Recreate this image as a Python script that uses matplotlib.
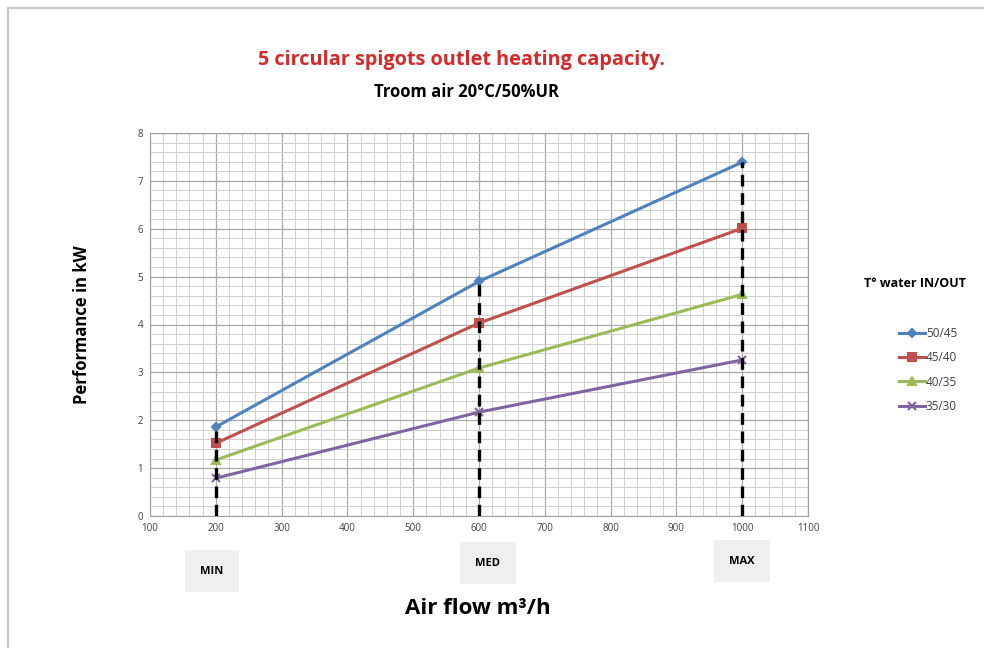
import matplotlib.pyplot as plt
import matplotlib.patches as mpatches
from matplotlib.ticker import MultipleLocator

airflow = [200, 600, 1000]
s_50_45 = [1.86, 4.90, 7.39]
s_45_40 = [1.52, 4.03, 6.01]
s_40_35 = [1.17, 3.09, 4.63]
s_35_30 = [0.79, 2.17, 3.26]
series_labels = ['50/45', '45/40', '40/35', '35/30']
levels = ['MIN', 'MED', 'MAX']

plt.rcParams['font.family'] = ['Open Sans', 'DejaVu Sans']

fig = plt.figure(figsize=(9.84, 6.48), dpi=100)
fig.patches.append(mpatches.Rectangle((8/984, -0.01), 1.0, 1 - 8/648 + 0.01,
                                      transform=fig.transFigure, fill=False,
                                      edgecolor='#c8c8c8', lw=1.5))
ax = fig.add_axes([150/984, 1 - 516/648, 658/984, 383/648])

colors = ['#4F81BD', '#C0504D', '#9BBB59', '#8064A2']
markers = ['D', 's', '^', 'x']
msizes = [4, 6, 6, 6]
for vals, lab, c, m, ms in zip([s_50_45, s_45_40, s_40_35, s_35_30],
                               series_labels, colors, markers, msizes):
    ax.plot(airflow, vals, color=c, marker=m, markersize=ms, lw=2.2,
            markeredgewidth=1.5, label=lab, zorder=3)

# dashed markers for MIN / MED / MAX
for x, top in zip(airflow, s_50_45):
    ax.plot([x, x], [0, top], color='black', ls=(0, (3.5, 2)), lw=2.4, zorder=4)

ax.set_xlim(100, 1100)
ax.set_ylim(0, 8)
ax.xaxis.set_major_locator(MultipleLocator(100))
ax.xaxis.set_minor_locator(MultipleLocator(20))
ax.yaxis.set_major_locator(MultipleLocator(1))
ax.yaxis.set_minor_locator(MultipleLocator(0.2))
ax.grid(which='major', color='#a8a8a8', lw=0.9)
ax.grid(which='minor', color='#cfcfcf', lw=0.7)
ax.set_axisbelow(True)
for sp in ax.spines.values():
    sp.set_color('#a0a0a0')
ax.tick_params(which='both', length=0, labelsize=7, colors='#404040', pad=5)

fig.text(461/984, 1 - 60/648, '5 circular spigots outlet heating capacity.',
         color='#d42a2a', fontsize=14.3, fontweight='bold', ha='center', va='center')
fig.text(466/984, 1 - 92/648, 'Troom air 20°C/50%UR', fontsize=12,
         fontweight='bold', ha='center', va='center')
fig.text(82/984, 1 - 325/648, 'Performance in kW', rotation=90, fontsize=12,
         fontweight='bold', ha='center', va='center')
fig.text(478/984, 1 - 608/648, 'Air flow m³/h', fontsize=16,
         fontweight='bold', ha='center', va='center')

box_pos = [(212, 571), (488, 563), (742, 561)]
for lev, (bx, by) in zip(levels, box_pos):
    fig.text(bx/984, 1 - by/648, lev, fontsize=8, fontweight='bold',
             ha='center', va='center',
             bbox=dict(boxstyle='square,pad=1.4', facecolor='#efefef', edgecolor='none'))

fig.text(915/984, 1 - 283/648, 'T° water IN/OUT', fontsize=9,
         fontweight='bold', ha='center', va='center')
leg = ax.legend(loc='center left', bbox_to_anchor=(888/984, 1 - 370/648),
                bbox_transform=fig.transFigure, frameon=False, fontsize=8.5,
                handlelength=2.2, handletextpad=0.1, labelspacing=0.95)
for t in leg.get_texts():
    t.set_color('#404040')

fig.savefig('out.png', dpi=100)
